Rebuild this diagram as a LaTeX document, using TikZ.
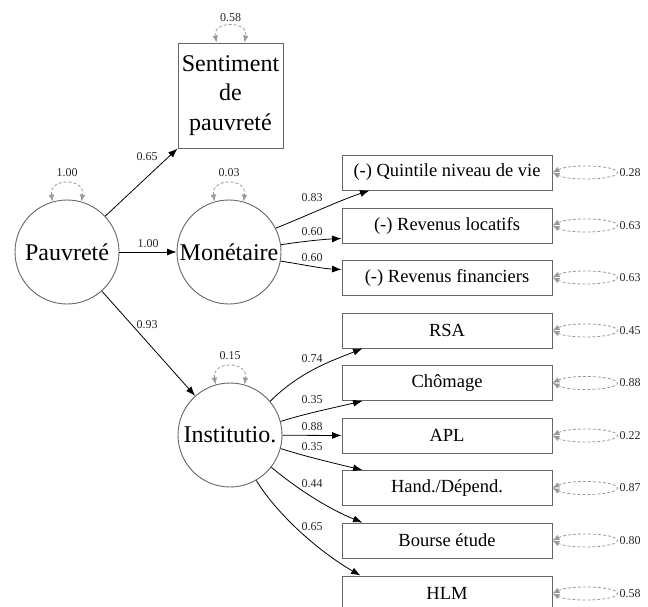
\documentclass[tikz,border=0pt]{standalone}
\usepackage{fontspec}
\setmainfont{Liberation Serif}
\usetikzlibrary{arrows.meta,calc}

\begin{document}
\begin{tikzpicture}[x=1pt,y=-1pt,
  latent/.style={circle,draw=black!60,line width=0.9pt,minimum size=104pt,inner sep=0pt,
    font=\fontsize{24}{28}\selectfont},
  manifest/.style={rectangle,draw=black!60,line width=0.9pt,minimum width=210pt,
    minimum height=35pt,inner sep=0pt,font=\fontsize{18.5}{22}\selectfont},
  loading/.style={draw=black,line width=0.8pt,-{Latex[length=9.5pt,width=7pt]}},
  coef/.style={font=\fontsize{12}{14}\selectfont,inner sep=1pt,text=black!85},
  varloop/.style={draw=black!40,dash pattern=on 3pt off 2pt,line width=0.8pt,
    {Latex[length=7pt,width=5.5pt]}-{Latex[length=7pt,width=5.5pt]}},
]
\useasboundingbox (0,0) rectangle (648,607);
\clip (0,0) rectangle (648,607);

% latent variables
\node[latent] (P) at (67,252) {Pauvreté};
\node[latent] (M) at (229,252) {Monétaire};
\node[latent] (I) at (230,435) {Institutio.};

% single indicator of Pauvreté
\node[rectangle,draw=black!60,line width=0.9pt,minimum width=105pt,minimum height=105pt,
  inner sep=0pt,align=center,font=\fontsize{24}{29.5}\selectfont] (S) at (230.5,95.5)
  {Sentiment\\de\\pauvreté};

% indicators
\node[manifest] (Q)   at (447,172.5) {(-) Quintile niveau de vie};
\node[manifest] (L)   at (447,225.5) {(-) Revenus locatifs};
\node[manifest] (F)   at (447,277.5) {(-) Revenus financiers};
\node[manifest] (R)   at (447,330.5) {RSA};
\node[manifest] (C)   at (447,383)   {Chômage};
\node[manifest] (A)   at (447,435.5) {APL};
\node[manifest] (H)   at (447,488)   {Hand./Dépend.};
\node[manifest] (B)   at (447,540.5) {Bourse étude};
\node[manifest] (HL)  at (447,593.5) {HLM};

% structural paths
\draw[loading] (P) -- (S.south west);
\draw[loading] (P) -- (M);
\draw[loading] (P) -- (I);
\node[coef] (c1) at (147,157) {0.65};
\node[coef] (c2) at (148,244) {1.00};
\node[coef] (c3) at (147,325) {0.93};

% loadings of Monétaire
\draw[loading] (M.27) .. controls +(30,-12) and +(-30,10) .. ([xshift=28pt]Q.south west);
\draw[loading] (M.8) .. controls +(20,-3) and +(-20,1) .. ([yshift=5pt]L.south west);
\draw[loading] (M.-10) .. controls +(20,3) and +(-20,-1) .. ([yshift=-10pt]F.north west);
\node[coef] (c4) at (312,198) {0.83};
\node[coef] (c5) at (312,232) {0.60};
\node[coef] (c6) at (312,258) {0.60};

% loadings of Institutio.
\draw[loading] (I.40) .. controls +(30,-30) and +(-30,12) .. ([xshift=21pt]R.south west);
\draw[loading] (I.15) .. controls +(25,-8) and +(-25,6) .. ([xshift=21pt]C.south west);
\draw[loading] (I) -- (A.west);
\draw[loading] (I.-15) .. controls +(25,8) and +(-25,-6) .. ([xshift=21pt]H.north west);
\draw[loading] (I.-38) .. controls +(30,25) and +(-30,-12) .. ([xshift=21pt]B.north west);
\draw[loading] (I.-60) .. controls +(25,40) and +(-35,-20) .. ([xshift=19pt]HL.north west);
\node[coef] (c7)  at (312,359) {0.74};
\node[coef] (c8)  at (312,400) {0.35};
\node[coef] (c9)  at (312,427) {0.88};
\node[coef] (c10) at (312,447) {0.35};
\node[coef] (c11) at (312,484) {0.44};
\node[coef] (c12) at (312,527) {0.65};

% variances of the latent variables
\foreach \n/\v in {P/1.00, M/0.03, I/0.15}{
  \draw[varloop] (\n.106) .. controls +(-4,-24) and +(4,-24) .. (\n.74);
  \node[coef] (v\n) at ([yshift=27pt]\n.north) {\v};
}
\draw[varloop] ([xshift=-14pt]S.north) .. controls +(-4,-22) and +(4,-22) .. ([xshift=14pt]S.north);
\node[coef] (vS) at ([yshift=25pt]S.north) {0.58};

% residual variances of the indicators: flat dashed loops on the right side
\foreach \n/\v in {Q/0.28, L/0.63, F/0.63, R/0.45, C/0.88, A/0.22, H/0.87, B/0.80, HL/0.58}{
  \draw[varloop] (\n.east)
      .. controls +(10,-5) and +(-14,0) .. ([xshift=33pt,yshift=6.5pt]\n.east)
      .. controls +(17,0) and +(0,-4) .. ([xshift=65pt]\n.east)
      .. controls +(0,4) and +(17,0) .. ([xshift=33pt,yshift=-6.5pt]\n.east)
      .. controls +(-14,0) and +(10,5) .. (\n.east);
  \node[coef,anchor=west] (r\n) at ([xshift=66pt]\n.east) {\v};
}
\end{tikzpicture}
\end{document}
